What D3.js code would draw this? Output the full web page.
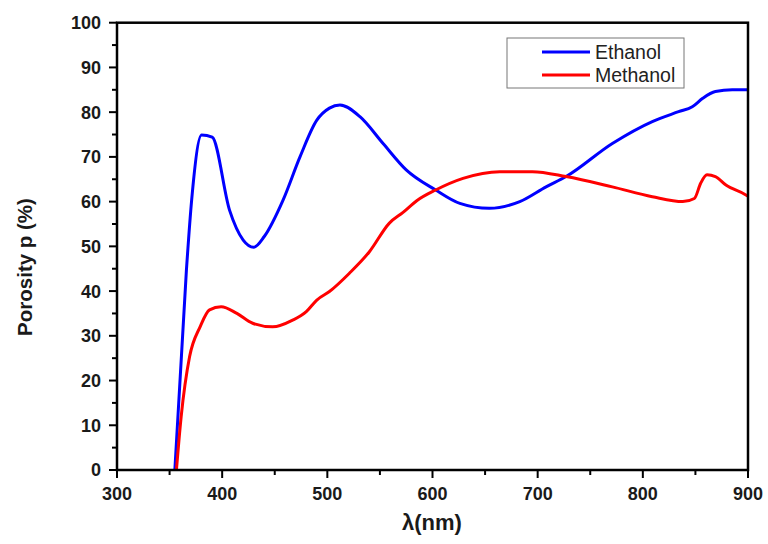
<!DOCTYPE html>
<html><head><meta charset="utf-8">
<script src="https://cdn.jsdelivr.net/npm/d3@7"></script>
<style>body{margin:0;background:#fff}svg{display:block}</style>
</head><body>
<svg id="c" width="768" height="544"></svg>
<script>
const seriesNames = ["Ethanol", "Methanol"];
const seriesColors = ["#0000ff", "#ff0000"];
const ethanol = [[355,0],[366,44.7],[371,60.4],[380.5,74.9],[390.5,74.4],[407,58.1],[420,51.4],[430,49.8],[440,52.2],[458,60.4],[474,70],[490,78.2],[502,80.9],[512,81.6],[531,79],[553,73],[575,67.1],[603,62.6],[626,59.6],[654,58.5],[683,60],[708,63.3],[727,65.6],[771,73],[809,77.9],[834,80.1],[847,81.2],[857,83.1],[869,84.6],[885,85],[900,85]];
const methanol = [[356.5,0],[361,11.9],[369,25.3],[379,32],[388,35.8],[399,36.5],[414,35],[429,32.8],[448,32],[467,33.5],[480,35.4],[490,38],[502,39.9],[521,44],[540,48.8],[559,55.2],[572,57.6],[585,60.2],[603,62.6],[629,65.2],[664,66.7],[695,66.7],[727,65.6],[771,63.3],[809,61.1],[838,60],[849,60.7],[855,64.1],[861,66],[869,65.6],[879,63.7],[898,61.5],[900,61.2]];
const xTicks = [300,400,500,600,700,800,900];
const yTicks = [0,10,20,30,40,50,60,70,80,90,100];
const xLabel = "λ(nm)";
const yLabel = "Porosity p (%)";

const svg = d3.select("#c");
const L=117, R=748, T=22.7, B=470;
const x = d3.scaleLinear().domain([300,900]).range([L,R]);
const y = d3.scaleLinear().domain([0,100]).range([B,T]);
const font = "'Liberation Sans', Arial, sans-serif";

// minor ticks
const xMinor = d3.range(350,900,100);
const yMinor = d3.range(5,100,10);
const ax = svg.append("g").attr("stroke","#000");
ax.selectAll("line.xm").data(xMinor).join("line").attr("x1",d=>x(d)).attr("x2",d=>x(d)).attr("y1",B).attr("y2",B+5).attr("stroke-width",2);
ax.selectAll("line.xM").data(xTicks).join("line").attr("x1",d=>x(d)).attr("x2",d=>x(d)).attr("y1",B).attr("y2",B+8).attr("stroke-width",2);
ax.selectAll("line.ym").data(yMinor).join("line").attr("x1",L-5).attr("x2",L).attr("y1",d=>y(d)).attr("y2",d=>y(d)).attr("stroke-width",2);
ax.selectAll("line.yM").data(yTicks).join("line").attr("x1",L-8).attr("x2",L).attr("y1",d=>y(d)).attr("y2",d=>y(d)).attr("stroke-width",2);

// curves
const line = d3.line().x(d=>x(d[0])).y(d=>y(d[1])).curve(d3.curveMonotoneX);
[ethanol, methanol].forEach((s,i)=>{
  svg.append("path").datum(s).attr("d",line).attr("fill","none").attr("stroke",seriesColors[i]).attr("stroke-width",3).attr("stroke-linejoin","round");
});

// frame
svg.append("rect").attr("x",L).attr("y",T).attr("width",R-L).attr("height",B-T).attr("fill","none").attr("stroke","#000").attr("stroke-width",2.5);

// tick labels
svg.selectAll("text.xt").data(xTicks).join("text").attr("x",d=>x(d)).attr("y",500).attr("text-anchor","middle")
  .attr("font-family",font).attr("font-weight","bold").attr("font-size",18).attr("fill","#1a1a1a").text(d=>d);
svg.selectAll("text.yt").data(yTicks).join("text").attr("x",101).attr("y",d=>y(d)).attr("dy","0.36em").attr("text-anchor","end")
  .attr("font-family",font).attr("font-weight","bold").attr("font-size",18).attr("fill","#1a1a1a").text(d=>d);

// axis titles
svg.append("text").attr("x",432).attr("y",530).attr("text-anchor","middle").attr("font-family",font).attr("font-weight","bold").attr("font-size",22).attr("fill","#1a1a1a").text(xLabel);
svg.append("text").attr("transform","translate(32,267) rotate(-90)").attr("text-anchor","middle").attr("font-family",font).attr("font-weight","bold").attr("font-size",20.5).attr("fill","#1a1a1a").text(yLabel);

// legend
svg.append("rect").attr("x",507).attr("y",38).attr("width",177).attr("height",50).attr("fill","#fff").attr("stroke","#777").attr("stroke-width",1);
seriesNames.forEach((n,i)=>{
  const yy = 52 + i*23;
  svg.append("line").attr("x1",542).attr("x2",590).attr("y1",yy).attr("y2",yy).attr("stroke",seriesColors[i]).attr("stroke-width",3);
  svg.append("text").attr("x",595).attr("y",yy+6.5).attr("font-family",font).attr("font-size",19.5).attr("fill","#222").text(n);
});
</script>
</body></html>
